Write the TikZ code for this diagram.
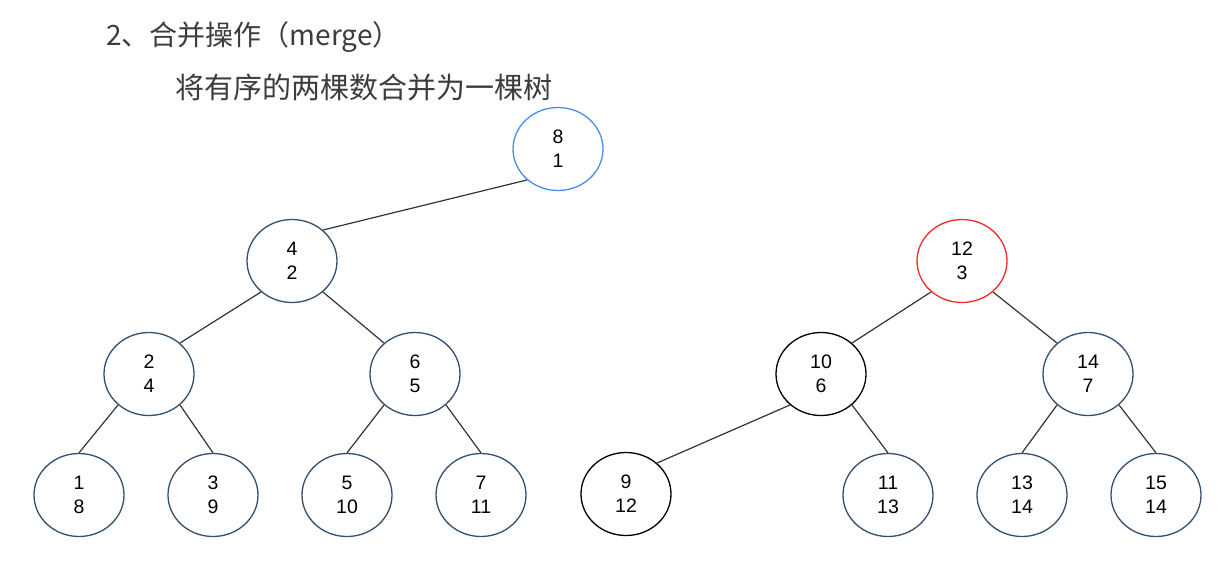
\documentclass[tikz,border=0pt]{standalone}
\usepackage{fontspec}
\setmainfont{Liberation Sans}
\newfontfamily\cjk{Noto Sans CJK SC}
\usetikzlibrary{shapes.geometric}
\definecolor{slate}{HTML}{34506E}
\definecolor{rootblue}{HTML}{4A8FE7}
\definecolor{rootred}{HTML}{EE2C2C}
\definecolor{titlegray}{HTML}{3C3C3C}
\tikzset{
  tnode/.style={ellipse, draw=slate, line width=1.3pt, minimum width=90pt, minimum height=83pt, inner sep=0pt,
    font=\fontsize{19.5}{24}\selectfont, align=center, text=black},
  edge/.style={draw=black!80, line width=1.2pt},
}
\begin{document}
\begin{tikzpicture}[x=1pt,y=-1pt]
\useasboundingbox (0,0) rectangle (1231,568);
\node[anchor=west, text=titlegray, font=\cjk\fontsize{28}{32}\selectfont, inner sep=0pt] (title) at (106,37) {2、合并操作（merge）};
\node[anchor=west, text=titlegray, font=\cjk\fontsize{29}{33}\selectfont, inner sep=0pt] (sub) at (175,88) {将有序的两棵数合并为一棵树};

\node[tnode, draw=rootblue] (n81) at (558,149) {8\\1};
\node[tnode] (n42) at (292,261) {4\\2};
\node[tnode] (n24) at (149,374) {2\\4};
\node[tnode] (n65) at (415,374) {6\\5};
\node[tnode] (n18) at (79,495) {1\\8};
\node[tnode] (n39) at (213,495) {3\\9};
\node[tnode] (n510) at (347,495) {5\\10};
\node[tnode] (n711) at (481,495) {7\\11};

\node[tnode, draw=rootred] (n123) at (962,261) {12\\3};
\node[tnode, draw=black] (n106) at (821,374) {10\\6};
\node[tnode] (n147) at (1088,374) {14\\7};
\node[tnode, draw=black] (n912) at (626,494) {9\\12};
\node[tnode] (n1113) at (888,495) {11\\13};
\node[tnode] (n1314) at (1022,495) {13\\14};
\node[tnode] (n1514) at (1156,495) {15\\14};

\draw[edge] (n81.225) -- (n42.45);
\draw[edge] (n42.225) -- (n24.45);
\draw[edge] (n42.315) -- (n65.135);
\draw[edge] (n24.225) -- (n18.north);
\draw[edge] (n24.315) -- (n39.north);
\draw[edge] (n65.225) -- (n510.north);
\draw[edge] (n65.315) -- (n711.north);
\draw[edge] (n123.225) -- (n106.45);
\draw[edge] (n123.315) -- (n147.135);
\draw[edge] (n106.225) -- (n912.45);
\draw[edge] (n106.315) -- (n1113.north);
\draw[edge] (n147.225) -- (n1314.north);
\draw[edge] (n147.315) -- (n1514.north);
\end{tikzpicture}
\end{document}
